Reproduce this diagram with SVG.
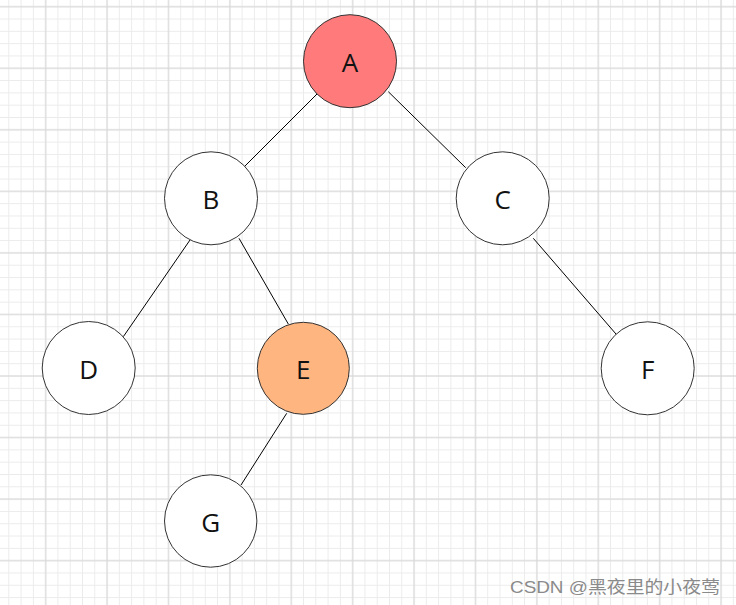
<svg xmlns="http://www.w3.org/2000/svg" width="736" height="605" viewBox="0 0 736 605">
  <defs>
    <pattern id="minor" patternUnits="userSpaceOnUse" x="2.66" y="0.55" width="12.28" height="12.31">
      <path d="M6.14 0V12.31M0 6.155H12.28" stroke="#ebebeb" stroke-width="1" fill="none"/>
    </pattern>
    <pattern id="major" patternUnits="userSpaceOnUse" x="15" y="-24.075" width="61.4" height="61.55">
      <path d="M30.7 0V61.55M0 30.775H61.4" stroke="#d6d6d6" stroke-width="1" fill="none"/>
    </pattern>
    <style>
      .node circle { stroke: #333333; stroke-width: 1; }
      .node text { font-family: "Open Sans", "Noto Sans", "Liberation Sans", sans-serif; font-size: 26px; fill: #111111; text-anchor: middle; }
      .edges line { stroke: #000000; stroke-width: 1; }
    </style>
  </defs>
  <rect width="736" height="605" fill="#ffffff"/>
  <rect width="736" height="605" fill="url(#minor)"/>
  <rect width="736" height="605" fill="url(#major)"/>

  <g id="connectors" class="edges">
    <line x1="318" y1="93" x2="243.3" y2="167.7"/>
    <line x1="388.3" y1="91.7" x2="465.7" y2="167.7"/>
    <line x1="190" y1="240" x2="123.3" y2="336.7"/>
    <line x1="239" y1="238.3" x2="288.3" y2="324"/>
    <line x1="533.3" y1="238.3" x2="618.3" y2="336.7"/>
    <line x1="286.7" y1="413.3" x2="241" y2="485"/>
  </g>

  <g id="node-A" class="node">
    <circle cx="350" cy="61.2" r="46.5" fill="#ff7b7b"/>
    <text x="350" y="71.5">A</text>
  </g>
  <g id="node-B" class="node">
    <circle cx="211" cy="198.3" r="46.5" fill="#ffffff"/>
    <text x="211" y="208.8">B</text>
  </g>
  <g id="node-C" class="node">
    <circle cx="502.7" cy="198.3" r="46.5" fill="#ffffff"/>
    <text x="502.7" y="208.8">C</text>
  </g>
  <g id="node-D" class="node">
    <circle cx="88.7" cy="368" r="46.5" fill="#ffffff"/>
    <text x="88.7" y="378.5">D</text>
  </g>
  <g id="node-E" class="node">
    <circle cx="303.3" cy="368.3" r="46" fill="#ffb57f"/>
    <text x="303.3" y="378.8">E</text>
  </g>
  <g id="node-F" class="node">
    <circle cx="647.7" cy="368.3" r="46.5" fill="#ffffff"/>
    <text x="647.7" y="378.8">F</text>
  </g>
  <g id="node-G" class="node">
    <circle cx="210.7" cy="521" r="46.2" fill="#ffffff"/>
    <text x="210.7" y="531.5">G</text>
  </g>

  <text x="510" y="593" font-family="'Liberation Sans', 'Noto Sans CJK SC', sans-serif" font-size="17" fill="#8a8a8a" textLength="210" lengthAdjust="spacingAndGlyphs">CSDN @黑夜里的小夜莺</text>
</svg>
